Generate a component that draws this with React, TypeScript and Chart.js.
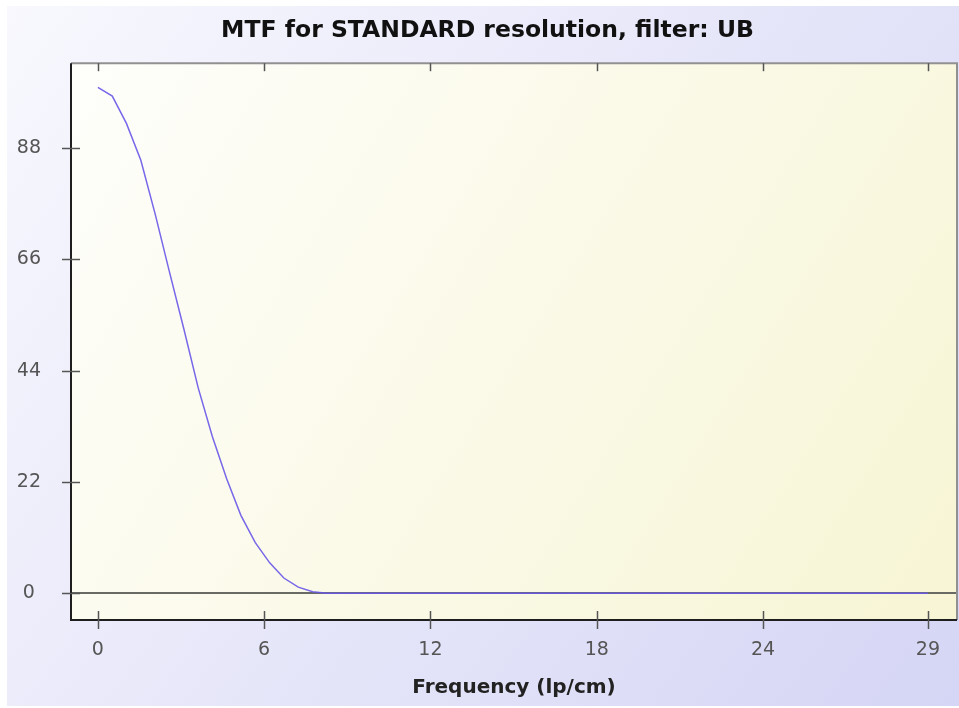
import React, { useEffect, useRef } from 'react';
import { Chart, registerables } from 'chart.js';

Chart.register(...registerables);

// Frequency samples (lp/cm)
const FREQUENCY = [
  0, 0.52, 1.03, 1.55, 2.07, 2.58, 3.1, 3.62, 4.13, 4.65,
  5.16, 5.68, 6.2, 6.71, 7.23, 7.75, 8.26, 8.78, 9.29, 9.81,
  10.33, 10.84, 11.36, 11.88, 12.39, 12.91, 13.43, 13.94, 14.46, 14.98,
  15.49, 16.01, 16.53, 17.04, 17.56, 18.07, 18.59, 19.11, 19.62, 20.14,
  20.66, 21.17, 21.69, 22.21, 22.72, 23.24, 23.76, 24.27, 24.79, 25.3,
  25.82, 26.34, 26.85, 27.37, 27.89, 28.4, 28.92, 29.44, 29.95,
];

// MTF values (%)
const MTF = [
  100, 98.3, 92.9, 85.6, 74.9, 63.6, 52.3, 40.6, 31.0, 22.6,
  15.4, 10.0, 6.0, 3.0, 1.2, 0.3, 0, 0, 0, 0,
  0, 0, 0, 0, 0, 0, 0, 0, 0, 0,
  0, 0, 0, 0, 0, 0, 0, 0, 0, 0,
  0, 0, 0, 0, 0, 0, 0, 0, 0, 0,
  0, 0, 0, 0, 0, 0, 0, 0, 0,
];

const X_TICKS = [0, 6, 12, 18, 24, 29.95];
const X_TICK_LABELS = ['0', '6', '12', '18', '24', '29'];
const Y_TICKS = [0, 22, 44, 66, 88];
const Y_TICK_LABELS = ['0', '22', '44', '66', '88'];

const X_MIN = -0.97;
const X_MAX = 31;
const Y_MIN = -5.3;
const Y_MAX = 104.8;

const TITLE = 'MTF for STANDARD resolution, filter: UB';
const X_TITLE = 'Frequency (lp/cm)';

const decor = {
  id: 'decor',
  beforeDraw(chart: any) {
    const { ctx, width, height, chartArea: ca } = chart;
    ctx.save();
    ctx.fillStyle = '#ffffff';
    ctx.fillRect(0, 0, width, height);
    const g = ctx.createLinearGradient(7, 6, width, height);
    g.addColorStop(0, '#f8f8fe');
    g.addColorStop(1, '#d5d5f5');
    ctx.fillStyle = g;
    ctx.fillRect(7, 6, width - 7, height - 8);
    const g2 = ctx.createLinearGradient(ca.left, ca.top, ca.right, ca.bottom);
    g2.addColorStop(0, '#fefefb');
    g2.addColorStop(1, '#f7f5d4');
    ctx.fillStyle = g2;
    ctx.fillRect(ca.left, ca.top, ca.right - ca.left, ca.bottom - ca.top);
    ctx.restore();
  },
  afterDraw(chart: any) {
    const { ctx, chartArea: ca, scales } = chart;
    const xs = scales.x;
    const ys = scales.y;
    ctx.save();
    // top & right borders (grey)
    ctx.strokeStyle = '#919191';
    ctx.lineWidth = 2;
    ctx.beginPath();
    ctx.moveTo(ca.left, ca.top);
    ctx.lineTo(ca.right, ca.top);
    ctx.lineTo(ca.right, ca.bottom);
    ctx.stroke();
    // left & bottom borders (dark)
    ctx.strokeStyle = '#1e1e1e';
    ctx.beginPath();
    ctx.moveTo(ca.left, ca.top);
    ctx.lineTo(ca.left, ca.bottom);
    ctx.lineTo(ca.right, ca.bottom);
    ctx.stroke();
    // tick marks
    ctx.lineWidth = 1.5;
    ctx.strokeStyle = '#555555';
    xs.ticks.forEach((t: any) => {
      const px = Math.round(xs.getPixelForValue(t.value)) + 0.5;
      ctx.beginPath();
      ctx.moveTo(px, ca.bottom - 9);
      ctx.lineTo(px, ca.bottom + 9);
      ctx.stroke();
      ctx.beginPath();
      ctx.moveTo(px, ca.top);
      ctx.lineTo(px, ca.top + 8);
      ctx.stroke();
    });
    ys.ticks.forEach((t: any) => {
      const py = Math.round(ys.getPixelForValue(t.value)) + 0.5;
      ctx.beginPath();
      ctx.moveTo(ca.left - 9, py);
      ctx.lineTo(ca.left + 9, py);
      ctx.stroke();
    });
    ctx.restore();
  },
};

export default function App() {
  const ref = useRef<HTMLCanvasElement | null>(null);

  useEffect(() => {
    if (!ref.current) return;
    const points = FREQUENCY.map((f, i) => ({ x: f, y: MTF[i] }));
    const chart = new Chart(ref.current, {
      type: 'line',
      data: {
        datasets: [
          {
            label: 'MTF',
            data: points,
            borderColor: 'rgba(104, 86, 232, 0.9)',
            borderWidth: 1.5,
            pointRadius: 0,
            tension: 0,
            fill: false,
          },
        ],
      },
      options: {
        animation: false,
        responsive: false,
        devicePixelRatio: 1,
        layout: { padding: { left: 18, right: 2, top: 0, bottom: 0 } },
        plugins: {
          legend: { display: false },
          tooltip: { enabled: false },
          title: {
            display: true,
            text: TITLE,
            color: '#111111',
            font: { family: 'DejaVu Sans', size: 23.5, weight: 'bold', lineHeight: 1.2 },
            padding: { top: 17, bottom: 18 },
          },
        },
        scales: {
          x: {
            type: 'linear',
            min: X_MIN,
            max: X_MAX,
            afterBuildTicks: (s: any) => {
              s.ticks = X_TICKS.map((v) => ({ value: v }));
            },
            afterFit: (s: any) => {
              s.height = 88;
              s.paddingLeft = 0;
              s.paddingRight = 0;
            },
            grid: { display: false, drawTicks: false },
            border: { display: false },
            ticks: {
              autoSkip: false,
              maxRotation: 0,
              padding: 19,
              color: '#555555',
              font: { family: 'DejaVu Sans', size: 19 },
              callback: (_v: any, i: number) => X_TICK_LABELS[i],
            },
            title: {
              display: true,
              text: X_TITLE,
              color: '#222222',
              font: { family: 'DejaVu Sans', size: 20, weight: 'bold', lineHeight: 1.2 },
              padding: { top: 0, bottom: 8 },
            },
          },
          y: {
            type: 'linear',
            min: Y_MIN,
            max: Y_MAX,
            afterBuildTicks: (s: any) => {
              s.ticks = Y_TICKS.map((v) => ({ value: v }));
            },
            afterFit: (s: any) => {
              s.width = 53;
              s.paddingTop = 0;
              s.paddingBottom = 0;
            },
            grid: {
              display: true,
              drawTicks: false,
              lineWidth: 2,
              color: (c: any) => (c.tick && c.tick.value === 0 ? '#6a6a64' : 'rgba(0,0,0,0)'),
            },
            border: { display: false },
            ticks: {
              autoSkip: false,
              padding: 30,
              crossAlign: 'center',
              color: '#555555',
              font: { family: 'DejaVu Sans', size: 19 },
              callback: (_v: any, i: number) => Y_TICK_LABELS[i],
            },
          },
        },
      },
      plugins: [decor],
    } as any);
    return () => chart.destroy();
  }, []);

  return (
    <div style={{ position: 'absolute', left: 0, top: 0, width: 959, height: 708 }}>
      <canvas ref={ref} width={959} height={708} style={{ width: 959, height: 708, display: 'block' }} />
    </div>
  );
}
